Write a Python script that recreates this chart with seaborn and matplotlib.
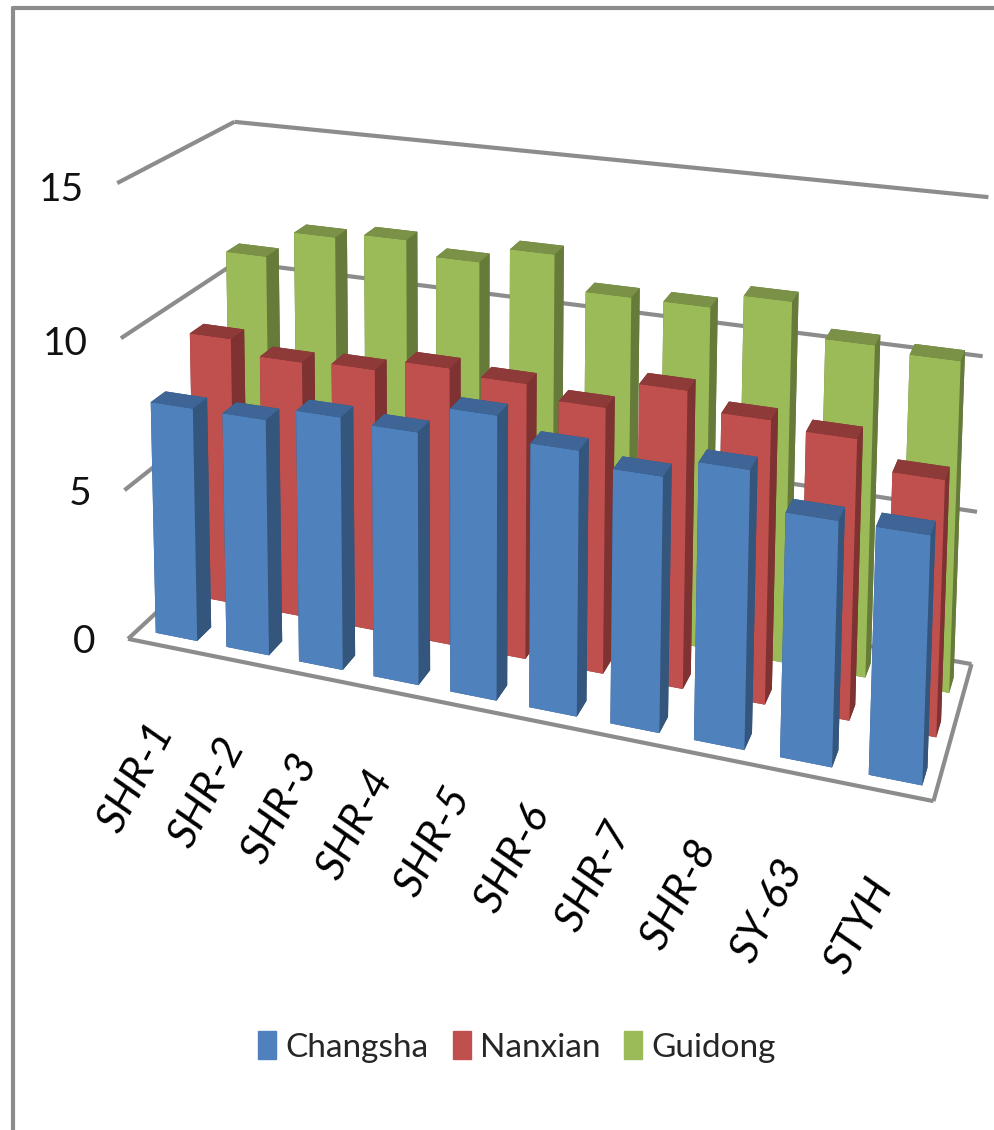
import numpy as np
import matplotlib
matplotlib.use('Agg')
import matplotlib.pyplot as plt
from matplotlib.patches import Patch
from mpl_toolkits.mplot3d import Axes3D, art3d, proj3d
import seaborn as sns

varieties = ['SHR-1','SHR-2','SHR-3','SHR-4','SHR-5','SHR-6','SHR-7','SHR-8','SY-63','STYH']
sites = ['Changsha','Nanxian','Guidong']
changsha = [7.75,7.75,8.2,8.1,9.0,8.3,7.9,8.5,7.4,7.4]
nanxian = [9.1,8.65,8.75,9.15,9.0,8.6,9.5,8.95,8.75,7.9]
guidong = [11.05,12.0,12.2,11.75,12.3,11.2,11.2,11.7,10.65,10.5]
yticks = [0,5,10,15]

sns.set_theme(style='white')
plt.rcParams['font.family'] = ['Lato','DejaVu Sans']

front = ['#4F81BD','#C0504D','#9BBB59']
side = ['#34557C','#7E3231','#667B3A']
top = ['#3E6595','#8E3A38','#7A9147']
grid = '#8C8C8C'

# camera calibrated on the corners of the chart box: (cat, depth, value) -> pixel
box = [(0,0,0),(10,0,0),(10,3,0),(0,3,0),(0,0,15),(0,3,15),(10,3,15),(0,0,5),(0,0,10),(10,3,5),(10,3,10)]
pix = [(131,634),(933,806),(972,660),(238,540),(115,184),(237,120),(988,200),(125,490),(120,338),(977,510),(983,355)]
A = []
for (X,Y,Z),(u,v) in zip(box,pix):
    A.append([X,Y,Z,1,0,0,0,0,-u*X,-u*Y,-u*Z,-u])
    A.append([0,0,0,0,X,Y,Z,1,-v*X,-v*Y,-v*Z,-v])
P = np.linalg.svd(np.array(A,dtype=float))[2][-1].reshape(3,4)
if P[2,3] < 0:
    P = -P
M = np.vstack([P[0],P[1],[0,0,0,-1],P[2]])

fig = plt.figure(figsize=(9.94,11.30),dpi=100)
ax = fig.add_axes([0,0,1,1],projection='3d')
ax.get_proj = lambda: M
ax.apply_aspect = lambda position=None: None
ax.viewLim.intervalx = (0,994)
ax.viewLim.intervaly = (1130,0)
ax.set_axis_off()
ax.computed_zorder = False

# walls and floor
segs = []
for t in yticks[1:]:
    segs.append([(0,0,t),(0,3,t)])
    segs.append([(0,3,t),(10,3,t)])
segs += [[(0,0,0),(10,0,0)],[(10,0,0),(10,3,0)],[(10,3,0),(0,3,0)],[(0,3,0),(0,0,0)]]
ax.add_collection3d(art3d.Line3DCollection(segs,colors=grid,linewidths=3,zorder=2))

# bars
xs,ys,zs,cols = [],[],[],[]
for s,vals in enumerate([changsha,nanxian,guidong]):
    for i,v in enumerate(vals):
        xs.append(i+0.25)
        ys.append(s+0.25)
        zs.append(v)
        cols += [side[s],top[s],front[s],side[s],side[s],side[s]]
ax.bar3d(xs,ys,np.zeros(len(xs)),0.59,0.36,zs,color=cols,shade=False,linewidth=0,zorder=3)

for t in yticks:
    ax.text(-0.47,0,t-0.33,str(t),fontsize=28,color='#111111',ha='right',va='center')
for i,name in enumerate(varieties):
    u,v,_ = proj3d.proj_transform(i+0.49,0,-2.7,M)
    ax.text2D(u,v,name,transform=ax.transData,fontsize=31,style='italic',color='black',rotation=62,
              ha='right',va='center',rotation_mode='anchor')

handles = [Patch(color=c,label=s) for c,s in zip(front,sites)]
fig.legend(handles=handles,loc='center',bbox_to_anchor=(517/994,1-1047/1130),ncol=3,frameon=False,
           fontsize=24,handlelength=0.54,handleheight=0.9,handletextpad=0.27,columnspacing=0.72)

# outer chart frame
fig.add_artist(plt.Line2D([13/994,13/994],[0,1-8/1130],color=grid,lw=3))
fig.add_artist(plt.Line2D([13/994,1],[1-8/1130,1-8/1130],color=grid,lw=3))

fig.savefig('out.png',dpi=100)
